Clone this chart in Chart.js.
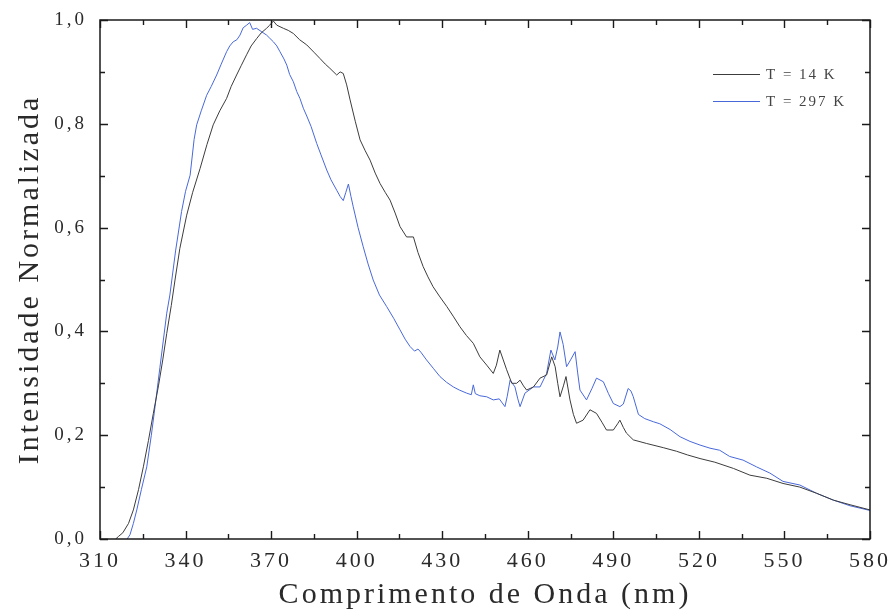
<!DOCTYPE html>
<html>
<head>
<meta charset="utf-8">
<script src="https://cdn.jsdelivr.net/npm/chart.js@4.4.1/dist/chart.umd.min.js"></script>
<style>
  html, body { margin: 0; padding: 0; background: #fff; }
  #wrap { width: 890px; height: 613px; }
</style>
</head>
<body>
<div id="wrap"><canvas id="spectra" width="890" height="613"></canvas></div>
<script>
// T = 14 K
const waveLow = [315.5, 316.5, 318, 320, 321.7, 323.5, 325.2, 327, 328.7, 330.5, 332, 333.4, 335, 336.3, 338, 340.4,
  342.5, 345.1, 347.5, 349.7, 352, 354.4, 356, 357.9, 359.5, 361.4, 363, 364.9, 366.5, 368.4, 369.5, 370.8, 372,
  374.3, 376, 377.8, 380, 382.5, 385, 387.1, 389, 390.6, 393, 394.2, 395.3, 396.5, 397.7, 399.5, 401.2, 403, 404.7,
  406.5, 408.2, 410, 411.7, 413.5, 415.2, 417.5, 419.9, 421.5, 423.3, 425, 426.8, 429, 431.6, 434, 436.2, 438.5,
  440.9, 443.2, 445.6, 447.9, 449, 450.2, 451.4, 452.6, 454.4, 456.1, 457.3, 458.5, 459.6, 462, 464.3, 466.6, 468.4,
  469.6, 470.5, 471.3, 472.5, 473.4, 474.8, 476, 477.1, 479.4, 481.8, 484.1, 486, 487.6, 490, 491.5, 492.3, 493.5,
  494.6, 497, 501.7, 507.5, 512.2, 516, 520.4, 525.6, 532.1, 537.9, 543.8, 549.5, 555.4, 561.3, 567.1, 573, 580];
const intLow = [0.000, 0.005, 0.012, 0.030, 0.056, 0.095, 0.139, 0.190, 0.242, 0.295, 0.345, 0.396, 0.450, 0.499, 0.560, 0.624,
  0.668, 0.714, 0.760, 0.798, 0.825, 0.849, 0.872, 0.894, 0.912, 0.933, 0.950, 0.964, 0.975, 0.984, 0.990, 0.998, 0.990,
  0.984, 0.980, 0.974, 0.962, 0.952, 0.938, 0.926, 0.915, 0.907, 0.894, 0.900, 0.897, 0.875, 0.846, 0.805, 0.769, 0.748, 0.730,
  0.705, 0.685, 0.668, 0.653, 0.628, 0.602, 0.582, 0.582, 0.552, 0.525, 0.505, 0.486, 0.468, 0.448, 0.428, 0.409, 0.392,
  0.377, 0.351, 0.335, 0.319, 0.335, 0.364, 0.345, 0.326, 0.300, 0.300, 0.306, 0.295, 0.287, 0.293, 0.310, 0.316, 0.351,
  0.332, 0.300, 0.274, 0.295, 0.313, 0.268, 0.240, 0.223, 0.229, 0.249, 0.242, 0.225, 0.210, 0.210, 0.222, 0.229, 0.215,
  0.204, 0.191, 0.184, 0.176, 0.169, 0.162, 0.155, 0.148, 0.136, 0.123, 0.117, 0.107, 0.100, 0.088, 0.075, 0.066, 0.056];

// T = 297 K
const waveRoom = [319.5, 320.5, 321.7, 322.9, 324.5, 326.4, 328, 329.3, 331, 333.4, 334.5, 336.5, 338.6, 340, 341.6, 343,
  343.9, 345.5, 347.4, 349, 350.9, 352.5, 354.4, 355.5, 356.7, 358, 359.1, 360.2, 361.4, 362.5, 363.5, 364.9, 366.5,
  368.4, 369.5, 370.8, 372, 373.1, 374.5, 375.5, 376.5, 377.8, 379, 380.1, 381.3, 382.5, 384, 386, 387.5, 389.5, 391,
  393, 394.2, 395.3, 396.2, 397.1, 398, 398.8, 400.5, 402.3, 404, 405.8, 408, 410.5, 413, 415.2, 417, 418.7, 420.3,
  421.5, 422.5, 424.5, 427, 429.2, 431.5, 433.9, 436, 438.6, 440.2, 440.9, 441.6, 443.2, 445.6, 447.9, 450, 452,
  452.8, 453.8, 455.5, 456.5, 457.3, 459, 462, 464.3, 466.6, 468.1, 469.5, 470.5, 471.3, 472.4, 473.6, 475, 476.6,
  477.5, 478.3, 480.6, 482.5, 484.1, 486.5, 488.3, 490, 492.3, 493.5, 495.2, 496.2, 497, 498.8, 501, 504, 506.3,
  509.9, 513.4, 516.9, 520.4, 523.9, 527.3, 530.8, 535.5, 540.2, 544.9, 549.5, 555.4, 561.3, 567.1, 573, 580];
const intRoom = [0.000, 0.008, 0.030, 0.056, 0.095, 0.139, 0.200, 0.255, 0.330, 0.435, 0.470, 0.555, 0.631, 0.670, 0.701, 0.770,
  0.798, 0.825, 0.855, 0.872, 0.894, 0.915, 0.939, 0.950, 0.958, 0.962, 0.971, 0.985, 0.990, 0.995, 0.982, 0.984, 0.978,
  0.971, 0.965, 0.958, 0.950, 0.939, 0.925, 0.913, 0.895, 0.881, 0.862, 0.849, 0.830, 0.815, 0.795, 0.762, 0.740, 0.711, 0.692,
  0.672, 0.660, 0.652, 0.668, 0.684, 0.660, 0.640, 0.600, 0.563, 0.530, 0.499, 0.470, 0.448, 0.425, 0.403, 0.385, 0.371, 0.362,
  0.366, 0.360, 0.345, 0.328, 0.313, 0.302, 0.293, 0.287, 0.281, 0.278, 0.297, 0.280, 0.276, 0.274, 0.268, 0.270, 0.255,
  0.275, 0.306, 0.293, 0.270, 0.255, 0.281, 0.293, 0.293, 0.319, 0.364, 0.345, 0.370, 0.399, 0.375, 0.332, 0.345, 0.361,
  0.320, 0.287, 0.268, 0.290, 0.310, 0.303, 0.280, 0.261, 0.255, 0.260, 0.290, 0.285, 0.274, 0.240, 0.232, 0.226, 0.222,
  0.211, 0.197, 0.188, 0.181, 0.175, 0.171, 0.159, 0.152, 0.139, 0.127, 0.111, 0.104, 0.088, 0.075, 0.064, 0.055];

const xTicks = [310, 340, 370, 400, 430, 460, 490, 520, 550, 580];
const yTicks = [0, 0.2, 0.4, 0.6, 0.8, 1.0];

const SERIF = '"Liberation Serif", "Times New Roman", serif';
const INK = '#2a2a2a';

function toPoints(xs, ys) {
  return xs.map((x, i) => ({ x: x, y: ys[i] }));
}

// frame, inward ticks (major + minor on all four sides), legend inside the plot
const framePlugin = {
  id: 'frame',
  beforeDraw(chart) {
    chart.ctx.letterSpacing = '3px';
  },
  afterDraw(chart) {
    const { ctx, chartArea: a, scales } = chart;
    ctx.save();
    ctx.letterSpacing = '0px';
    ctx.strokeStyle = '#1a1a1a';
    ctx.lineWidth = 1.5;
    ctx.strokeRect(a.left, a.top, a.right - a.left, a.bottom - a.top);

    ctx.lineWidth = 1.4;
    ctx.beginPath();
    for (let v = 310; v <= 580; v += 15) {
      const px = Math.round(scales.x.getPixelForValue(v)) + 0.5;
      const len = (v - 310) % 30 === 0 ? 8 : 5;
      ctx.moveTo(px, a.bottom); ctx.lineTo(px, a.bottom - len);
      ctx.moveTo(px, a.top); ctx.lineTo(px, a.top + len);
    }
    for (let k = 0; k <= 10; k++) {
      const py = Math.round(scales.y.getPixelForValue(k / 10)) + 0.5;
      const len = k % 2 === 0 ? 8 : 5;
      ctx.moveTo(a.left, py); ctx.lineTo(a.left + len, py);
      ctx.moveTo(a.right, py); ctx.lineTo(a.right - len, py);
    }
    ctx.stroke();

    // legend
    const rows = [74, 101];
    ctx.font = '15px ' + SERIF;
    ctx.letterSpacing = '2px';
    ctx.textBaseline = 'middle';
    chart.data.datasets.forEach((ds, i) => {
      ctx.strokeStyle = ds.borderColor;
      ctx.lineWidth = 1;
      ctx.beginPath();
      ctx.moveTo(713, rows[i] + 0.5);
      ctx.lineTo(760, rows[i] + 0.5);
      ctx.stroke();
      ctx.fillStyle = '#444';
      ctx.fillText(ds.label, 766, rows[i] + 1);
    });
    ctx.restore();
  }
};

const ctx = document.getElementById('spectra').getContext('2d');
new Chart(ctx, {
  type: 'line',
  data: {
    datasets: [{
      label: 'T = 14 K',
      data: toPoints(waveLow, intLow),
      borderColor: '#3c3c3c',
      borderWidth: 1,
      pointRadius: 0,
      tension: 0
    }, {
      label: 'T = 297 K',
      data: toPoints(waveRoom, intRoom),
      borderColor: 'rgb(72, 104, 218)',
      borderWidth: 1,
      pointRadius: 0,
      tension: 0
    }]
  },
  options: {
    responsive: false,
    animation: false,
    events: [],
    layout: { padding: { top: 20, right: 20, left: 0, bottom: 0 } },
    plugins: {
      legend: { display: false },
      tooltip: { enabled: false }
    },
    scales: {
      x: {
        type: 'linear',
        min: 310,
        max: 580,
        afterBuildTicks: scale => { scale.ticks = xTicks.map(v => ({ value: v })); },
        afterFit: scale => {
          scale.height = 74;
          scale.paddingLeft = 0;
          scale.paddingRight = 0;
        },
        grid: { display: false, drawTicks: false },
        border: { display: false },
        ticks: {
          padding: 9,
          color: INK,
          font: { family: SERIF, size: 22 },
          maxRotation: 0,
          callback: v => String(v)
        },
        title: {
          display: true,
          text: 'Comprimento de Onda (nm)',
          color: INK,
          font: { family: SERIF, size: 30 },
          padding: { top: 0, bottom: 0 }
        }
      },
      y: {
        min: 0,
        max: 1,
        afterBuildTicks: scale => { scale.ticks = yTicks.map(v => ({ value: v })); },
        afterFit: scale => {
          scale.width = 100;
          scale.paddingTop = 0;
          scale.paddingBottom = 0;
        },
        grid: { display: false, drawTicks: false },
        border: { display: false },
        ticks: {
          padding: 13,
          color: INK,
          font: { family: SERIF, size: 19 },
          callback: v => v.toFixed(1).replace('.', ',')
        },
        title: {
          display: true,
          text: 'Intensidade Normalizada',
          color: INK,
          font: { family: SERIF, size: 30 },
          padding: { top: 12, bottom: 0 }
        }
      }
    }
  },
  plugins: [framePlugin]
});
</script>
</body>
</html>
